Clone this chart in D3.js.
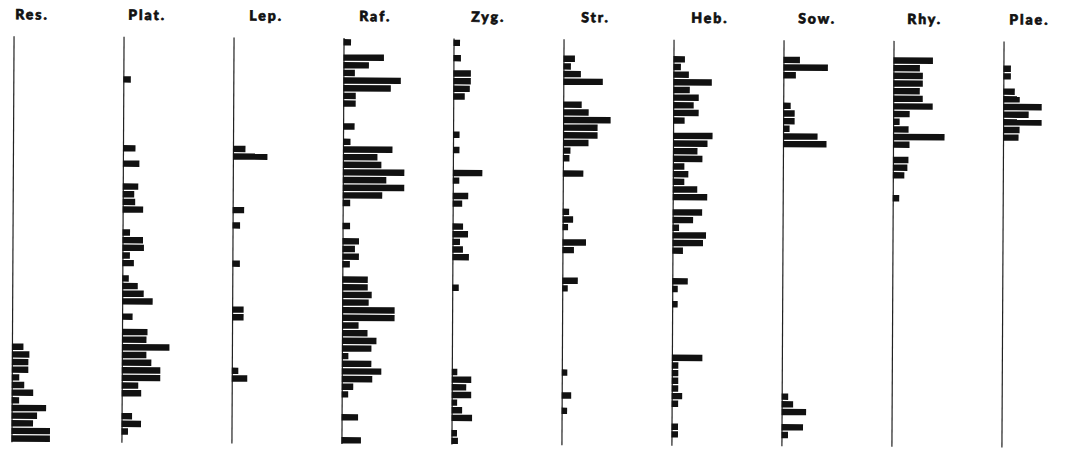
<!DOCTYPE html>
<html>
<head>
    <title>Range chart</title>
    <script src="https://d3js.org/d3.v7.min.js"></script>
    <style>
        body { margin: 0; background: #fff; }
        #chart { display: block; }
        .title {
            font-family: Lato, "Open Sans", sans-serif;
            font-weight: 900;
            font-size: 14px;
            letter-spacing: 2px;
            fill: #111;
            stroke: #111;
            stroke-width: 0.7px;
        }
    </style>
</head>
<body>
    <svg id="chart"></svg>
    <script>
        const width = 1072;
        const height = 449;

        // taxa (column headings)
        const taxa = ["Res.", "Plat.", "Lep.", "Raf.", "Zyg.", "Str.", "Heb.", "Sow.", "Rhy.", "Plae."];

        // [sample level (0 = top), abundance] for each taxon
        const res = [[40,11],[41,17],[42,16],[43,16],[44,7],[45,12],[46,21],[47,7],[48,34],[49,25],[50,21],[51,38],[52,38]];
        const plat = [[5,7],[14,12],[16,16],[19,15],[20,11],[21,12],[22,20],[25,7],[26,20],[27,21],[28,7],[29,11],
            [31,6],[32,15],[33,21],[34,30],[36,10],[38,25],[39,24],[40,47],[41,24],[42,29],[43,38],[44,38],[45,16],
            [46,19],[49,10],[50,19],[51,6]];
        const lep = [[14,12],[15,34],[22,11],[24,7],[29,7],[35,11],[36,11],[43,6],[44,15]];
        const raf = [[0,7],[2,40],[3,25],[4,11],[5,57],[6,47],[7,12],[8,12],[11,11],[13,7],[14,49],[15,34],[16,38],
            [17,61],[18,43],[19,61],[20,39],[21,7],[24,7],[26,16],[27,12],[28,16],[29,7],[31,25],[32,25],[33,29],
            [34,26],[35,52],[36,52],[37,16],[38,25],[39,34],[40,29],[41,6],[42,29],[43,39],[44,30],[45,11],[46,6],
            [49,16],[52,19]];
        const zyg = [[0,6],[2,7],[4,17],[5,17],[6,16],[7,11],[12,6],[14,6],[17,29],[18,6],[20,15],[21,9],[24,10],
            [25,15],[26,7],[27,10],[28,16],[32,6],[43,5],[44,19],[45,14],[46,19],[47,5],[48,10],[49,20],[51,5],[52,6]];
        const str = [[2,11],[3,7],[4,17],[5,39],[8,18],[9,25],[10,47],[11,34],[12,34],[13,25],[14,7],[15,6],[17,20],
            [22,6],[23,10],[24,5],[26,23],[27,11],[31,15],[32,5],[43,5],[46,9],[48,5]];
        const heb = [[2,11],[3,7],[4,15],[5,38],[6,16],[7,25],[8,20],[9,25],[10,11],[12,39],[13,34],[14,24],[15,29],
            [16,11],[17,15],[18,11],[19,24],[20,34],[22,29],[23,20],[24,6],[25,33],[26,30],[27,10],[31,15],[32,5],
            [34,5],[41,30],[42,6],[43,6],[44,6],[45,6],[46,10],[47,6],[50,6],[51,6]];
        const sow = [[2,16],[3,44],[4,12],[8,7],[9,11],[10,11],[11,6],[12,34],[13,43],[46,6],[47,11],[48,24],[50,21],[51,6]];
        const rhy = [[2,39],[3,26],[4,29],[5,29],[6,26],[7,29],[8,39],[9,16],[10,6],[11,15],[12,51],[13,16],
            [15,15],[16,14],[17,11],[20,6]];
        const plae = [[3,7],[4,7],[6,11],[7,16],[8,38],[9,25],[10,38],[11,16],[12,15]];

        const series = [res, plat, lep, raf, zyg, str, heb, sow, rhy, plae];
        const levelCount = 53;

        // heading offset from each column's base line (layout only)
        const titleDx = [1, 4, 15, 15, 17, 17, 17, 14, 13, 5];

        const svg = d3.select("#chart")
            .attr("width", width)
            .attr("height", height);

        // the original scan sits slightly rotated
        const g = svg.append("g")
            .attr("transform", "rotate(0.3, 536, 240)");

        const col = d3.scalePoint()
            .domain(taxa)
            .range([13, 1003]);

        const y = d3.scaleLinear()
            .domain([0, levelCount - 1])
            .range([43.3, 441.3]);

        const x = d3.scaleLinear()
            .domain([0, 60])
            .range([0, 60]);

        const barH = 6.4;

        const cols = g.selectAll(".col")
            .data(taxa)
            .enter().append("g")
            .attr("class", "col")
            .attr("transform", d => `translate(${col(d)},0)`);

        cols.append("line")
            .attr("x1", 0)
            .attr("x2", 0)
            .attr("y1", 39)
            .attr("y2", 445)
            .style("stroke", "#222")
            .style("stroke-width", 1.2);

        cols.append("text")
            .attr("class", "title")
            .attr("x", (d, i) => titleDx[i])
            .attr("y", 22)
            .text(d => d);

        cols.selectAll("rect")
            .data((d, i) => series[i])
            .enter().append("rect")
            .attr("x", -0.5)
            .attr("y", d => y(d[0]) - barH / 2)
            .attr("width", d => x(d[1]) + 0.5)
            .attr("height", barH)
            .style("fill", "#111");
    </script>
</body>
</html>
